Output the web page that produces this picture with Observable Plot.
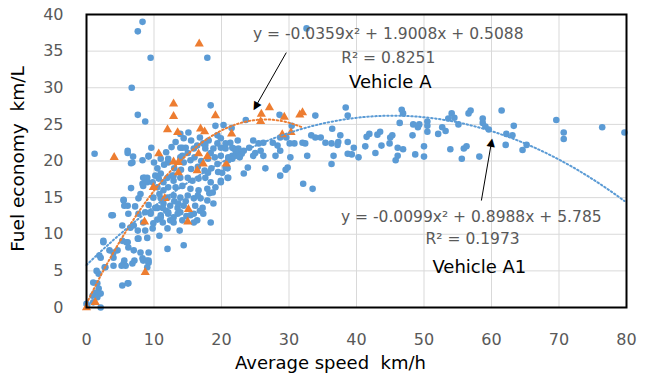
<!DOCTYPE html>
<html><head><meta charset="utf-8">
<script src="https://cdn.jsdelivr.net/npm/d3@7"></script>
<script src="https://cdn.jsdelivr.net/npm/@observablehq/plot@0.6"></script>
<style>body{margin:0;background:#fff;}</style>
</head><body><div id="chart"></div>
<script>
// Vehicle A1 (blue circles): [average speed km/h, fuel economy km/L]
const vehicleA1 = [
[8.3,39.0],[7.6,37.7],[9.5,34.1],[17.9,34.1],[32.6,38.1],[6.7,30.0],[7.6,26.3],[8.7,25.4],[18.4,27.6],[15.1,23.9],[1.2,21.0],[6.1,21.4],[6.9,20.6],[6.6,19.7],[8.3,20.1],[9.2,20.6],[9.6,21.8],[12.1,19.8],[8.6,17.7],[8.3,16.9],[7.7,14.9],[5.5,14.7],[33.9,26.2],[38.4,27.3],[38.7,26.2],[23.6,25.6],[28.6,26.3],
[30.4,24.8],[33.3,23.5],[33.9,23.2],[36.4,24.4],[37.6,23.5],[35.4,22.5],[36.3,22.4],[37.3,22.6],[38.7,22.6],[34.7,23.2],[36.6,20.7],[38.7,21.0],[32.7,20.7],[32.0,22.5],[32.4,22.4],[30.1,22.4],[30.8,22.4],[28.7,23.2],[29.6,23.2],[28.3,22.1],[27.6,22.5],[26.2,22.5],[25.5,22.4],[24.7,22.8],[24.1,21.8],[23.3,21.4],[25.8,21.4],[25.0,21.1],[24.7,20.7],[26.2,20.7],[28.0,20.7],[28.7,21.4],[30.2,20.5],[29.8,19.1],[29.5,18.8],[28.7,18.0],[26.5,19.0],[23.9,19.1],[23.3,18.3],[32.1,16.9],[33.5,16.2],[21.8,21.7],[21.6,20.7],[21.0,20.1],[20.6,19.1],[20.9,17.7],[19.4,22.4],[19.9,17.3],[19.1,16.4],[18.2,15.6],[23.0,21.0],
[37.2,22.2],[36.3,19.6],[39.6,21.8],[39.3,20.9],[40.3,20.5],[41.5,23.3],[41.9,23.7],[43.1,23.6],[43.5,24.0],[41.3,22.0],[42.8,21.1],[43.7,22.1],[45.0,23.2],[45.3,23.5],[44.9,22.4],[46.1,21.8],[46.9,21.6],[46.1,20.7],[45.8,20.1],[46.7,27.0],[46.9,26.5],[46.4,25.2],[48.4,25.0],[48.3,23.5],[49.3,25.0],[49.1,24.6],[50.5,25.4],[50.5,24.8],[50.5,24.0],[48.7,20.9],[50.0,22.0],[50.0,20.6],[52.1,23.7],[52.7,24.6],[53.2,24.1],[53.6,25.8],[54.1,26.5],[54.5,25.9],[53.9,21.6],[55.1,25.0],[55.6,20.3],[55.9,21.7],[56.3,22.0],[56.6,26.5],[56.9,26.9],[58.7,25.8],[58.7,25.2],[59.1,24.7],[59.6,24.3],[61.5,26.9],[58.2,20.6],[63.3,24.8],[62.2,23.7],[63.1,23.5],[62.1,22.2],[65.2,22.2],[64.6,21.5],[69.6,25.6],[70.7,23.9],[70.7,23.0],[76.4,24.6],[79.7,23.9],
[13.9,21.8],[14.7,21.8],[14.2,20.7],[15.0,21.1],[18.4,21.1],[18.8,21.7],[19.9,21.8],[20.6,21.7],[21.6,21.8],[22.4,21.1],[19.9,20.7],[21.0,20.5],[21.6,20.3],[22.1,20.7],[22.7,20.5],[11.0,20.3],[12.1,20.3],[14.4,19.8],[15.4,20.1],[19.4,19.6],[20.9,19.0],[20.1,18.4],[21.0,17.7],[9.0,17.7],[8.4,16.6],[10.7,17.6],[11.4,17.1],[12.7,18.0],[12.9,17.3],[13.9,17.7],[15.0,17.7],[15.7,17.3],[16.6,17.6],[17.6,17.7],[18.4,17.1],[19.9,17.1],[10.5,16.4],[11.4,16.0],[12.1,16.4],[13.2,16.4],[14.2,16.6],[15.4,16.2],[16.6,16.0],[17.9,16.2],[18.7,15.7],[9.9,15.0],[11.0,14.9],[12.0,15.0],[12.9,15.3],[13.9,15.0],[15.0,15.3],[15.9,14.9],[16.9,14.9],[17.9,14.6],[10.2,13.6],[11.3,13.6],[12.4,13.9],[13.5,13.6],[14.4,13.9],[16.1,13.9],[17.2,13.6],[18.8,14.2],[9.5,12.8],[11.0,12.6],[12.1,12.8],[13.5,12.8],[15.9,12.8],[17.3,12.8],[9.9,11.5],[11.3,11.6],[12.9,11.6],[15.9,11.6],[18.4,11.6],[16.4,22.1],[17.6,21.7],[15.9,21.7],[19.4,23.5],[19.9,23.1],[18.1,22.8],[20.6,22.4],[21.3,22.5],[22.4,22.8],[22.5,21.7],[22.1,21.4],[14.4,23.1],[13.9,23.7],[14.2,21.8],[13.9,20.5],[17.3,22.4],[17.6,22.2],
[10.5,19.0],[11.5,19.5],[13.0,19.0],[14.0,18.8],[15.5,18.9],[16.5,19.2],[17.5,18.7],[18.5,19.0],[11.8,21.2],[12.6,21.9],[13.2,22.6],[15.5,22.8],[16.8,23.2],[19.1,24.8],[20.3,24.9],[21.5,24.5],[10.0,19.8],[16.0,20.5],[17.0,20.0],[18.0,20.3],[19.0,20.5],[19.5,18.5],[18.0,18.4],[16.5,15.3],[14.7,14.5],[13.0,14.5],[11.8,13.2],[14.8,12.5],[16.8,13.2],[10.8,15.5],[9.2,14.0],[10.5,12.0],[12.0,10.8],[13.8,10.5],[9.0,9.5],[10.8,9.8],[7.2,13.8],[8.0,15.5],[6.6,16.3],
[6.1,21.1],[6.8,19.8],[9.2,20.7],[8.4,17.7],[9.0,17.1],[9.8,17.1],[10.2,18.0],[11.0,18.3],[12.0,17.7],[12.9,18.0],[5.5,14.6],[6.1,13.9],[6.2,12.8],[3.9,12.6],[5.3,11.2],[6.5,10.9],[7.0,11.2],[7.6,10.5],[8.7,10.5],[9.8,10.8],[8.4,11.6],[7.7,12.8],[8.7,13.0],[9.5,13.0],[10.5,13.6],[11.0,12.3],[12.4,11.9],[11.4,14.2],[12.1,13.0],[12.9,12.3],[13.9,13.0],[13.6,14.2],[14.2,11.9],[15.4,12.6],[16.4,11.9],[5.3,9.1],[6.1,8.9],[6.2,8.2],[7.0,7.8],[7.6,9.4],[4.6,7.8],[2.5,8.9],[4.0,7.5],[4.0,6.8],[2.1,6.8],[12.0,8.0],[14.4,8.5],[8.0,7.5],[8.3,6.7],[9.2,6.1],[9.0,5.5],[5.5,6.0],[5.8,5.7],[6.8,6.0],[4.0,5.7],[2.8,5.5],[1.8,4.6],[5.3,3.0],[6.1,3.3],[1.0,3.4],[1.6,3.3],[1.8,2.6],[1.3,2.0],[2.1,1.9],[0.9,1.6],[1.6,1.4],[1.0,0.7],[0.1,0.3],[2.1,0.0],[8.4,6.4],[9.2,6.4],[0.0,0.5],[3.7,12.6],[5.6,13.9],[2.5,9.1],[1.9,7.1],[2.7,5.5],[1.5,5.0],[3.4,7.8],[5.9,8.9],[7.1,6.4],[8.9,6.4],[7.7,9.4],[9.2,7.5],[5.6,6.4],[5.2,5.7],[6.2,3.3]
];
// Vehicle A (orange triangles)
const vehicleA = [
[0,0],[1.3,0.7],[8.7,4.8],[8.6,11.7],[15.0,11.7],[15.1,13.4],[11.6,14.9],[9.9,16.4],[4.1,20.5],[10.7,21.0],[12.9,19.9],[13.6,19.8],[13.6,18.4],[16.4,18.7],[16.6,21.0],[17.3,19.6],[17.9,20.6],[20.7,19.6],[12.0,24.3],[13.5,23.9],[16.9,24.4],[17.5,24.0],[12.9,26.1],[12.9,27.8],[16.7,36.0],[19.1,26.2],[21.5,23.7],[25.8,25.4],[25.9,26.4],[27.1,27.3],[29.3,26.0],[29.0,23.6],[30.3,23.9],[31.6,26.3],[32.0,26.6]
];
// Trendline coefficients shown on the chart: [a, b, c] for y = a x^2 + b x + c
const trendA = [-0.0359, 1.9008, 0.5088];
const trendA1 = [-0.0099, 0.8988, 5.785];
const xTicks = [0,10,20,30,40,50,60,70,80];
const yTicks = [0,5,10,15,20,25,30,35,40];
const labelTexts = ["y = -0.0359x² + 1.9008x + 0.5088","R² = 0.8251","Vehicle A","y = -0.0099x² + 0.8988x + 5.785","R² = 0.1973","Vehicle A1"];
const labelX = [44.7,44.7,45.0,57.0,57.2,58.2];
const labelY = [37.4,34.1,30.8,12.4,9.3,5.5];
const labelKind = ["eq","eq","name","eq","eq","name"];
const arrowFrom = [[29.6,34.8],[58.5,14.6]];
const arrowTo = [[25.0,27.35],[60.0,22.6]];
const arrowAngle = [210,10];

function curve(coef, data){
  const xs = data.map(d=>d[0]);
  const lo = d3.min(xs), hi = d3.max(xs);
  return d3.range(lo, hi + 1e-9, (hi-lo)/200).map(x => [x, coef[0]*x*x + coef[1]*x + coef[2]]);
}
const labels = labelTexts.map((t,i)=>({t, x:labelX[i], y:labelY[i], kind:labelKind[i]}));
const arrows = arrowFrom.map((f,i)=>({x1:f[0], y1:f[1], x2:arrowTo[i][0], y2:arrowTo[i][1], a:arrowAngle[i]}));
const F = "DejaVu Sans";
const chart = Plot.plot({
  width: 645, height: 387,
  marginLeft: 86, marginRight: 19, marginTop: 14, marginBottom: 80,
  style: {fontFamily: F, background: "white", color: "#595959"},
  x: {domain: [0,80]},
  y: {domain: [0,40]},
  marks: [
    Plot.gridX(xTicks, {stroke: "#d9d9d9", strokeOpacity: 1, strokeWidth: 1}),
    Plot.gridY(yTicks, {stroke: "#d9d9d9", strokeOpacity: 1, strokeWidth: 1}),
    Plot.axisX(xTicks, {tickSize: 0, tickPadding: 26, fontSize: 16, fill: "#595959", label: null}),
    Plot.axisY(yTicks, {tickSize: 0, tickPadding: 23, fontSize: 16, fill: "#595959", label: null}),
    Plot.dot(vehicleA1, {x: d=>d[0], y: d=>d[1], r: 3.3, fill: "#5B9BD5", stroke: "none"}),
    Plot.dot(vehicleA, {x: d=>d[0], y: d=>d[1], r: 3.4, symbol: "triangle", fill: "#ED7D31", stroke: "none"}),
    Plot.line(curve(trendA, vehicleA), {x: d=>d[0], y: d=>d[1], stroke: "#ED7D31", strokeWidth: 2, strokeDasharray: "1.5,2.5"}),
    Plot.line(curve(trendA1, vehicleA1), {x: d=>d[0], y: d=>d[1], stroke: "#5B9BD5", strokeWidth: 2, strokeDasharray: "1.5,2.5"}),
    Plot.frame({stroke: "black", strokeWidth: 2}),
    Plot.link(arrows, {x1: "x1", y1: "y1", x2: "x2", y2: "y2", stroke: "black", strokeWidth: 1}),
    Plot.text(arrows, {x: "x2", y: "y2", text: () => "▲", rotate: d => d.a, fontSize: 11, fill: "black", lineAnchor: "middle"}),
    Plot.text(labels.filter(d=>d.kind==="eq"), {x: "x", y: "y", text: "t", fontSize: 15.5, fill: "#595959"}),
    Plot.text(labels.filter(d=>d.kind==="name"), {x: "x", y: "y", text: "t", fontSize: 18, fill: "black"}),
    Plot.text(["Average speed\u00a0 km/h"], {frameAnchor: "bottom", textAnchor: "middle", lineAnchor: "middle", dy: 56, dx: -26, text: d=>d, fontSize: 18, fill: "black"}),
    Plot.text(["Fuel economy\u00a0 km/L"], {frameAnchor: "left", textAnchor: "middle", lineAnchor: "middle", dx: -68, dy: -2, rotate: -90, text: d=>d, fontSize: 18.5, fill: "black"})
  ]
});
document.getElementById("chart").appendChild(chart);
</script>
</body></html>
